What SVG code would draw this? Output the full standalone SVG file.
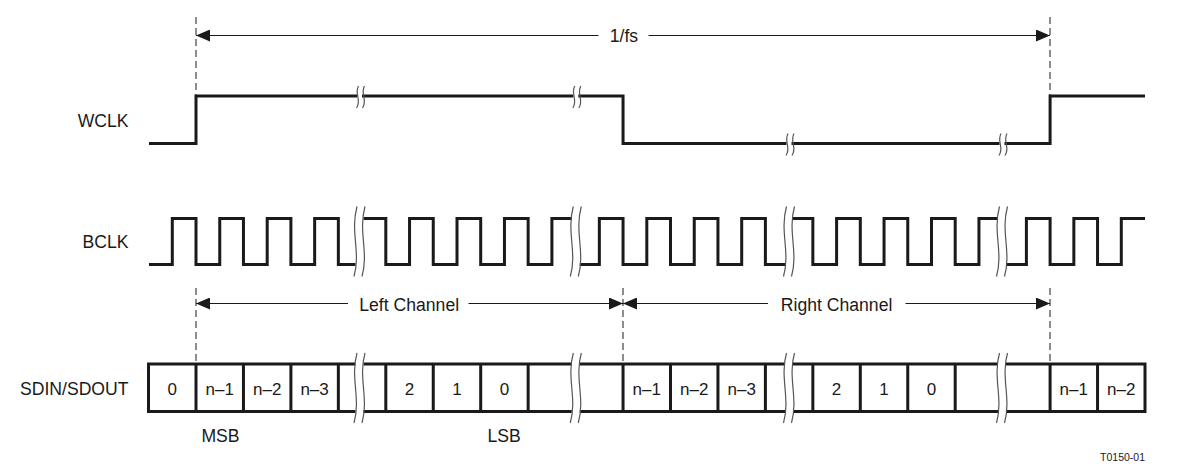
<svg xmlns="http://www.w3.org/2000/svg" width="1192" height="474" viewBox="0 0 1192 474">
<defs>
<style>
.lbl{font-family:"Liberation Sans",Arial,sans-serif;font-size:17.6px;fill:#1a1a1a}
.lblr{text-anchor:end}
.mid{text-anchor:middle}
.cell{font-family:"Liberation Sans",Arial,sans-serif;font-size:17px;fill:#1a1a1a;text-anchor:middle}
.sm{font-family:"Liberation Sans",Arial,sans-serif;font-size:10.5px;fill:#1a1a1a;text-anchor:end}
.wave{fill:none;stroke:#1a1a1a;stroke-width:3;stroke-linejoin:miter;stroke-linecap:butt}
.brk{fill:none;stroke:#555;stroke-width:1.2}
.dash{fill:none;stroke:#1a1a1a;stroke-width:1;stroke-dasharray:7 4}
.arr{fill:none;stroke:#1a1a1a;stroke-width:1.2}
</style>
<marker id="ah" markerUnits="userSpaceOnUse" markerWidth="14" markerHeight="12" refX="14" refY="6" orient="auto-start-reverse">
<path d="M0,0 L14,6 L0,12 z" fill="#1a1a1a"/>
</marker>
</defs>
<rect width="1192" height="474" fill="#fff"/>

<g id="labels">
<text class="lbl lblr" x="128.5" y="126.7">WCLK</text>
<text class="lbl lblr" x="128.5" y="247.7">BCLK</text>
<text class="lbl lblr" x="128.5" y="395">SDIN/SDOUT</text>
<text class="lbl mid" x="220.5" y="441.7">MSB</text>
<text class="lbl mid" x="504.2" y="441.7">LSB</text>
<text class="sm" x="1145" y="461">T0150-01</text>
</g>

<g id="wclk">
<path class="wave" d="M149,143.5 H196 V96 H357 M362,96 H573.3 M578.3,96 H623.05 V143.5 H786.5 M791.5,143.5 H999.5 M1004.5,143.5 H1050.1 V96 H1145"/>
</g>

<g id="bclk">
<path class="wave" d="M149,264.5 H172.3 V218.5 H196 V264.5 H219.75 V218.5 H243.45 V264.5 H267.2 V218.5 H290.9 V264.5 H314.65 V218.5 H338.35 V264.5 H355.5"/>
<path class="wave" d="M363.5,218.5 H385.8 V264.5 H409.55 V218.5 H433.25 V264.5 H457 V218.5 H480.7 V264.5 H504.45 V218.5 H528.15 V264.5 H551.9 V218.5 H571.8"/>
<path class="wave" d="M579.8,264.5 H599.35 V218.5 H623.05 V264.5 H646.8 V218.5 H670.5 V264.5 H694.25 V218.5 H717.95 V264.5 H741.7 V218.5 H765.4 V264.5 H785"/>
<path class="wave" d="M793,218.5 H812.85 V264.5 H836.6 V218.5 H860.3 V264.5 H884.05 V218.5 H907.75 V264.5 H931.5 V218.5 H955.2 V264.5 H978.95 V218.5 H998"/>
<path class="wave" d="M1006,264.5 H1026.4 V218.5 H1050.1 V264.5 H1073.85 V218.5 H1097.55 V264.5 H1121.3 V218.5 H1145"/>
</g>

<g id="sdin">
<path class="wave" d="M148.5,364 H355.5 M363.5,364 H571.8 M579.8,364 H785 M793,364 H998 M1006,364 H1145 M148.5,411.5 H355.5 M363.5,411.5 H571.8 M579.8,411.5 H785 M793,411.5 H998 M1006,411.5 H1145 M148.5,362.5 V413 M1145,362.5 V413"/>
<path class="wave" d="M196,364 V411.5 M243.45,364 V411.5 M290.9,364 V411.5 M338.35,364 V411.5 M385.8,364 V411.5 M433.25,364 V411.5 M480.7,364 V411.5 M528.15,364 V411.5 M623.05,364 V411.5 M670.5,364 V411.5 M717.95,364 V411.5 M765.4,364 V411.5 M812.85,364 V411.5 M860.3,364 V411.5 M907.75,364 V411.5 M955.2,364 V411.5 M1050.1,364 V411.5 M1097.55,364 V411.5"/>
<g id="cell-0"><text class="cell" x="172.3" y="395">0</text></g>
<g id="cell-l-n1"><text class="cell" x="219.7" y="395">n–1</text></g>
<g id="cell-l-n2"><text class="cell" x="267.2" y="395">n–2</text></g>
<g id="cell-l-n3"><text class="cell" x="314.6" y="395">n–3</text></g>
<g id="cell-l-2"><text class="cell" x="409.5" y="395">2</text></g>
<g id="cell-l-1"><text class="cell" x="457" y="395">1</text></g>
<g id="cell-l-0"><text class="cell" x="504.4" y="395">0</text></g>
<g id="cell-r-n1"><text class="cell" x="646.8" y="395">n–1</text></g>
<g id="cell-r-n2"><text class="cell" x="694.2" y="395">n–2</text></g>
<g id="cell-r-n3"><text class="cell" x="741.7" y="395">n–3</text></g>
<g id="cell-r-2"><text class="cell" x="836.6" y="395">2</text></g>
<g id="cell-r-1"><text class="cell" x="884" y="395">1</text></g>
<g id="cell-r-0"><text class="cell" x="931.5" y="395">0</text></g>
<g id="cell-n-n1"><text class="cell" x="1073.8" y="395">n–1</text></g>
<g id="cell-n-n2"><text class="cell" x="1121.3" y="395">n–2</text></g>
</g>

<g id="breaks">
<path class="brk" d="M358.5,86 C354,94 362,100 356.5,108 M364.5,86 C360,94 368,100 362.5,108"/>
<path class="brk" d="M574.8,86 C570.3,94 578.3,100 572.8,108 M580.8,86 C576.3,94 584.3,100 578.8,108"/>
<path class="brk" d="M788,133.5 C783.5,141.5 791.5,147.5 786,155.5 M794,133.5 C789.5,141.5 797.5,147.5 792,155.5"/>
<path class="brk" d="M1001,133.5 C996.5,141.5 1004.5,147.5 999,155.5 M1007,133.5 C1002.5,141.5 1010.5,147.5 1005,155.5"/>

<path class="brk" d="M357,206.5 C350,232 361,252 354,276.5 M365,206.5 C358,232 369,252 362,276.5"/>
<path class="brk" d="M573.3,206.5 C566.3,232 577.3,252 570.3,276.5 M581.3,206.5 C574.3,232 585.3,252 578.3,276.5"/>
<path class="brk" d="M786.5,206.5 C779.5,232 790.5,252 783.5,276.5 M794.5,206.5 C787.5,232 798.5,252 791.5,276.5"/>
<path class="brk" d="M999.5,206.5 C992.5,232 1003.5,252 996.5,276.5 M1007.5,206.5 C1000.5,232 1011.5,252 1004.5,276.5"/>

<path class="brk" d="M357,353 C350,378 361,398 354,423 M365,353 C358,378 369,398 362,423"/>
<path class="brk" d="M573.3,353 C566.3,378 577.3,398 570.3,423 M581.3,353 C574.3,378 585.3,398 578.3,423"/>
<path class="brk" d="M786.5,353 C779.5,378 790.5,398 783.5,423 M794.5,353 C787.5,378 798.5,398 791.5,423"/>
<path class="brk" d="M999.5,353 C992.5,378 1003.5,398 996.5,423 M1007.5,353 C1000.5,378 1011.5,398 1004.5,423"/>
</g>

<g id="connectors">
<path class="dash" d="M196,17 V96 M1050,17 V96 M196,288 V364 M623,288 V364 M1050,288 V364"/>
<line class="arr" x1="196" y1="35.5" x2="598.5" y2="35.5" marker-start="url(#ah)"/>
<line class="arr" x1="648.5" y1="35.5" x2="1050" y2="35.5" marker-end="url(#ah)"/>
<text class="lbl mid" x="624" y="41.7">1/fs</text>
<line class="arr" x1="196" y1="303.5" x2="348" y2="303.5" marker-start="url(#ah)"/>
<line class="arr" x1="468.5" y1="303.5" x2="623" y2="303.5" marker-end="url(#ah)"/>
<text class="lbl mid" x="409.2" y="310.5">Left Channel</text>
<line class="arr" x1="623" y1="303.5" x2="768" y2="303.5" marker-start="url(#ah)"/>
<line class="arr" x1="905.5" y1="303.5" x2="1050" y2="303.5" marker-end="url(#ah)"/>
<text class="lbl mid" x="836.6" y="310.5">Right Channel</text>
</g>
</svg>
